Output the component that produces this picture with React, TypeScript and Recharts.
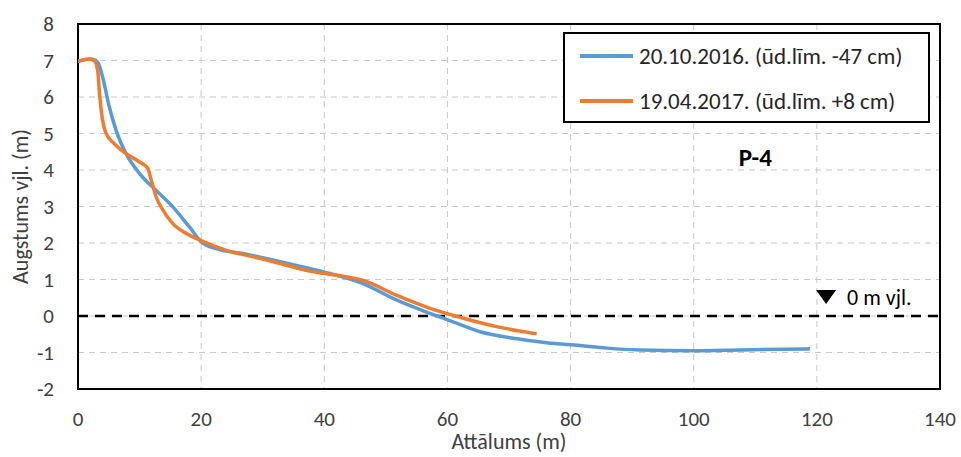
import React from 'react'
import {
  LineChart,
  Line,
  XAxis,
  YAxis,
  CartesianGrid,
  ReferenceLine,
  ReferenceArea,
  ReferenceDot,
  Label,
} from 'recharts'

// Profile P-4, distance (m) vs elevation (m)
const autumnDist = [0, 2.1, 3.2, 4.0, 5.1, 6.2, 7.8, 10, 12.7, 15.4, 18.1, 20.3, 23, 26.8, 32.5, 37.6, 39.8, 46.3, 51.7, 57.2, 60.9, 65.3, 70.7, 76.1, 81.5, 85.9, 91.3, 100, 107.6, 118.9]
const autumnElev = [6.98, 7.04, 6.95, 6.54, 5.72, 5.08, 4.45, 3.9, 3.44, 2.99, 2.44, 1.99, 1.82, 1.71, 1.5, 1.3, 1.21, 0.89, 0.44, 0.07, -0.16, -0.43, -0.61, -0.73, -0.81, -0.88, -0.93, -0.95, -0.93, -0.9]

const springDist = [0, 1.9, 2.7, 3.2, 3.5, 4.0, 4.6, 5.9, 7.8, 10, 11.35, 11.9, 12.7, 13.8, 15.4, 17.6, 19.8, 24.1, 29.5, 32.8, 37.6, 39.8, 46.9, 51.7, 57.2, 62.6, 68, 74.5]
const springElev = [6.98, 7.04, 6.98, 6.72, 6.08, 5.36, 4.99, 4.72, 4.45, 4.22, 4.04, 3.72, 3.26, 2.9, 2.53, 2.26, 2.08, 1.8, 1.58, 1.44, 1.23, 1.17, 0.94, 0.57, 0.21, -0.06, -0.29, -0.49]

const seriesNames = ['20.10.2016. (ūd.līm. -47 cm)', '19.04.2017. (ūd.līm. +8 cm)']
const seriesColors = ['#5B9BD5', '#ED7D31']

const xTicks = [0, 20, 40, 60, 80, 100, 120, 140]
const yTicks = [-2, -1, 0, 1, 2, 3, 4, 5, 6, 7, 8]

const profileTitle = 'P-4'
const waterLabel = '0 m vjl.'

const FONT = "Carlito, Calibri, Lato, 'Noto Sans', sans-serif"
const TICK = { fill: '#404040', fontSize: 21, fontFamily: FONT }

const toPoints = (xs: number[], ys: number[]) => xs.map((x, i) => ({ x, y: ys[i] }))
const autumnData = toPoints(autumnDist, autumnElev)
const springData = toPoints(springDist, springElev)

export default function App() {
  return (
    <div style={{ position: 'absolute', left: 0, top: 0, width: 961, height: 457, background: '#fff', fontFamily: FONT }}>
      <LineChart width={961} height={457} margin={{ top: 24, right: 21, bottom: 0, left: 0 }}>
        <CartesianGrid stroke="#c8c8c8" strokeDasharray="6 5" />
        <XAxis
          type="number"
          dataKey="x"
          domain={[0, 140]}
          ticks={xTicks}
          tick={TICK}
          tickLine={false}
          axisLine={false}
          tickMargin={16}
          height={68}
          allowDataOverflow
        >
          <Label value="Attālums (m)" position="insideBottom" offset={8} style={{ fill: '#404040', fontSize: 22, fontFamily: FONT }} />
        </XAxis>
        <YAxis
          type="number"
          dataKey="y"
          domain={[-2, 8]}
          ticks={yTicks}
          tick={TICK}
          tickLine={false}
          axisLine={false}
          tickMargin={18}
          width={78}
          allowDataOverflow
        >
          <Label
            value="Augstums vjl. (m)"
            angle={-90}
            position="insideLeft"
            offset={20}
            style={{ textAnchor: 'middle', fill: '#404040', fontSize: 22, fontFamily: FONT }}
          />
        </YAxis>
        <ReferenceArea x1={0} x2={140} y1={-2} y2={8} fill="none" stroke="#000" strokeWidth={2} />
        <ReferenceLine y={0} stroke="#000" strokeWidth={2.5} strokeDasharray="10 7" />
        <Line
          data={autumnData}
          dataKey="y"
          type="monotone"
          stroke={seriesColors[0]}
          strokeWidth={3.5}
          dot={false}
          isAnimationActive={false}
        />
        <Line
          data={springData}
          dataKey="y"
          type="monotone"
          stroke={seriesColors[1]}
          strokeWidth={3.5}
          dot={false}
          isAnimationActive={false}
        />
        <ReferenceDot
          x={110}
          y={4.35}
          r={0}
          shape={(p: any) => (
            <text x={p.cx} y={p.cy} textAnchor="middle" dominantBaseline="central" fontWeight="bold" fontSize={25} fontFamily={FONT} fill="#000">
              {profileTitle}
            </text>
          )}
        />
        <ReferenceDot
          x={121.5}
          y={0.52}
          r={0}
          shape={(p: any) => (
            <g>
              <path d={`M${p.cx - 10},${p.cy - 7} L${p.cx + 10},${p.cy - 7} L${p.cx},${p.cy + 7} Z`} fill="#000" />
              <text x={p.cx + 21} y={p.cy} dominantBaseline="central" fontSize={22} fontFamily={FONT} fill="#000">
                {waterLabel}
              </text>
            </g>
          )}
        />
      </LineChart>
      <div
        style={{
          position: 'absolute',
          left: 563,
          top: 32,
          width: 367,
          height: 91,
          border: '2px solid #000',
          background: '#fff',
          boxSizing: 'border-box',
        }}
      >
        {seriesNames.map((name, i) => (
          <div key={name} style={{ position: 'absolute', left: 15, top: 8 + i * 45, height: 28, display: 'flex', alignItems: 'center' }}>
            <span style={{ display: 'inline-block', width: 53, height: 4, background: seriesColors[i], marginRight: 6 }} />
            <span style={{ fontSize: 23, color: '#262626', whiteSpace: 'nowrap' }}>{name}</span>
          </div>
        ))}
      </div>
    </div>
  )
}
